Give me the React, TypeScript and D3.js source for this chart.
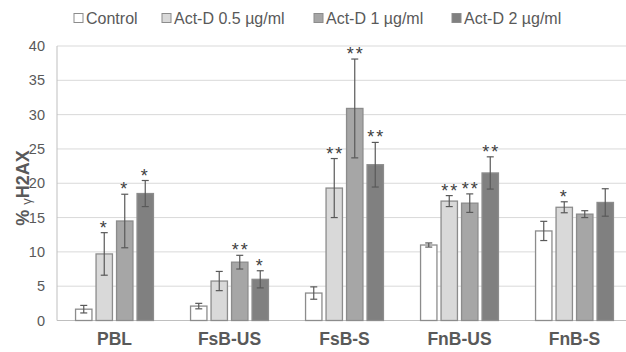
import React from "react";
import * as d3 from "d3";

const categories = ["PBL", "FsB-US", "FsB-S", "FnB-US", "FnB-S"];
const seriesNames = ["Control", "Act-D 0.5 µg/ml", "Act-D 1 µg/ml", "Act-D 2 µg/ml"];
const seriesColors = ["#ffffff", "#d9d9d9", "#a6a6a6", "#808080"];

const controlValues = [1.65, 2.1, 4.0, 11.0, 13.05];
const actD05Values = [9.7, 5.75, 19.3, 17.4, 16.5];
const actD1Values = [14.5, 8.5, 30.9, 17.1, 15.5];
const actD2Values = [18.5, 6.0, 22.7, 21.5, 17.2];

const controlErr = [0.55, 0.4, 0.9, 0.3, 1.4];
const actD05Err = [3.1, 1.4, 4.3, 0.8, 0.8];
const actD1Err = [3.9, 1.0, 7.2, 1.35, 0.5];
const actD2Err = [1.9, 1.25, 3.25, 2.35, 2.0];

const controlStars = ["", "", "", "", ""];
const actD05Stars = ["*", "", "**", "**", "*"];
const actD1Stars = ["*", "**", "**", "**", ""];
const actD2Stars = ["*", "*", "**", "**", ""];

const yTicks = [0, 5, 10, 15, 20, 25, 30, 35, 40];

const seriesValues = [controlValues, actD05Values, actD1Values, actD2Values];
const seriesErrs = [controlErr, actD05Err, actD1Err, actD2Err];
const seriesStars = [controlStars, actD05Stars, actD1Stars, actD2Stars];

export default function App() {
  const W = 626;
  const H = 352;
  const left = 57;
  const right = 632;
  const top = 46;
  const bottom = 320.5;

  const x = d3.scaleBand<string>().domain(categories).range([left, right]).padding(0);
  const y = d3.scaleLinear().domain([0, 40]).range([bottom, top]);
  const sub = d3
    .scaleBand<number>()
    .domain([0, 1, 2, 3])
    .range([0, 82])
    .paddingInner(0.2)
    .paddingOuter(0.1);

  const groupOffset = (x.bandwidth() - 82) / 2;
  const font = "'Liberation Sans', Arial, sans-serif";
  const textColor = "#595959";

  const legendX = [74, 162, 314, 452];

  return (
    <svg width={W} height={H} style={{ position: "absolute", left: 0, top: 0, background: "#fff" }}>
      {yTicks.map((t) => (
        <line
          key={"g" + t}
          x1={left}
          x2={W}
          y1={y(t)}
          y2={y(t)}
          stroke={t === 0 ? "#bfbfbf" : "#d9d9d9"}
          strokeWidth={1}
        />
      ))}
      <line x1={left} x2={left} y1={top} y2={bottom} stroke="#bfbfbf" strokeWidth={1} />
      {yTicks.map((t) => (
        <text
          key={"t" + t}
          x={45}
          y={y(t)}
          dy="0.35em"
          textAnchor="end"
          fontFamily={font}
          fontSize={14.5}
          fill={textColor}
        >
          {t}
        </text>
      ))}
      <text
        transform={`translate(29, 188) rotate(-90)`}
        textAnchor="middle"
        fontFamily={font}
        fontSize={18}
        fontWeight="bold"
        fill={textColor}
      >
        %{" "}
        <tspan fontWeight="normal" fontSize={13} dy={2}>
          γ
        </tspan>
        <tspan dy={-2}>H2AX</tspan>
      </text>
      {categories.map((c, ci) => (
        <g key={c}>
          {seriesValues.map((vals, si) => {
            const bx = (x(c) as number) + groupOffset + (sub(si) as number);
            const bw = sub.bandwidth();
            const v = vals[ci];
            const e = seriesErrs[si][ci];
            const cx = bx + bw / 2;
            const star = seriesStars[si][ci];
            return (
              <g key={si}>
                <rect
                  x={bx}
                  y={y(v)}
                  width={bw}
                  height={y(0) - y(v)}
                  fill={seriesColors[si]}
                  stroke="#8c8c8c"
                  strokeWidth={1.3}
                />
                <line x1={cx} x2={cx} y1={y(v + e)} y2={y(v - e)} stroke="#595959" strokeWidth={1.2} />
                <line x1={cx - 3.5} x2={cx + 3.5} y1={y(v + e)} y2={y(v + e)} stroke="#595959" strokeWidth={1.2} />
                <line x1={cx - 3.5} x2={cx + 3.5} y1={y(v - e)} y2={y(v - e)} stroke="#595959" strokeWidth={1.2} />
                {star && (
                  <text
                    x={cx + (star.length > 1 ? 1 : 0)}
                    y={y(v + e) + 1}
                    textAnchor="middle"
                    fontFamily={font}
                    fontSize={18}
                    letterSpacing={2}
                    fill="#404040"
                  >
                    {star}
                  </text>
                )}
              </g>
            );
          })}
          <text
            x={(x(c) as number) + x.bandwidth() / 2}
            y={345}
            textAnchor="middle"
            fontFamily={font}
            fontSize={17.5}
            fontWeight="bold"
            fill={textColor}
          >
            {c}
          </text>
        </g>
      ))}
      {seriesNames.map((n, i) => (
        <g key={n}>
          <rect
            x={legendX[i]}
            y={13.5}
            width={9}
            height={9}
            fill={seriesColors[i]}
            stroke="#8c8c8c"
            strokeWidth={1}
          />
          <text x={legendX[i] + 12} y={24} fontFamily={font} fontSize={16} fill={textColor}>
            {n}
          </text>
        </g>
      ))}
    </svg>
  );
}
